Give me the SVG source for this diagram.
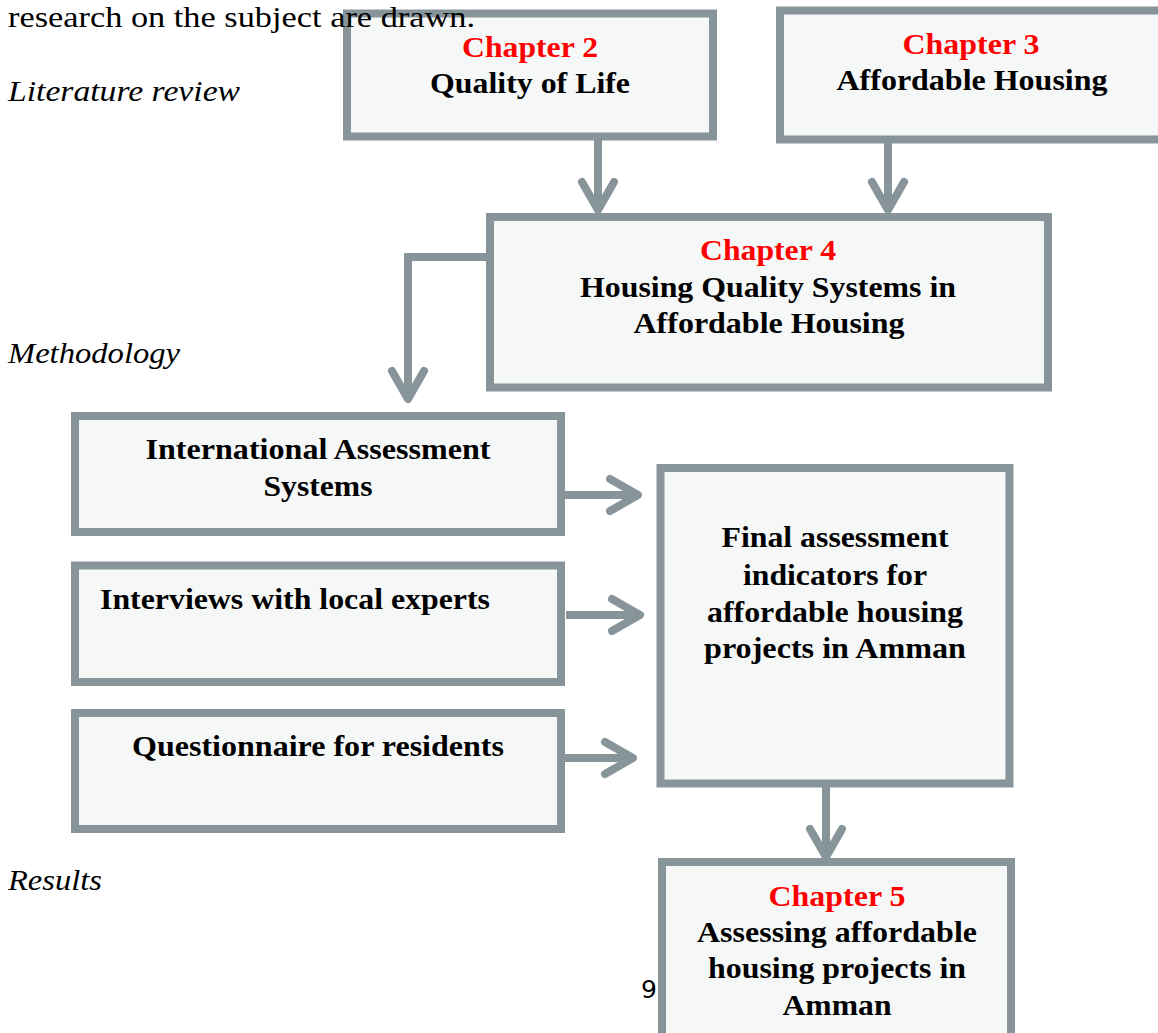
<svg xmlns="http://www.w3.org/2000/svg" width="1158" height="1033" viewBox="0 0 1158 1033">
<style>
.box{fill:#f6f8f8;stroke:#87949a;stroke-width:8}
.t{font-family:"Liberation Serif","Times New Roman",serif;font-weight:bold;font-size:30px;fill:#000;text-anchor:middle}
.ts{text-anchor:start}
.red{fill:#ff0000}
.lbl{font-family:"Liberation Serif","Times New Roman",serif;font-style:italic;font-size:29px;fill:#000}
.con{fill:none;stroke:#87949a;stroke-width:8}
</style>
<defs>
<marker id="arr" viewBox="-34 -22 44 44" refX="-4" refY="0" markerWidth="44" markerHeight="44" markerUnits="userSpaceOnUse" orient="auto">
<path d="M-28,-16 L0,0 L-28,16" fill="none" stroke="#87949a" stroke-width="8" stroke-linecap="round" stroke-linejoin="round"/>
</marker>
</defs>
<rect width="1158" height="1033" fill="#ffffff"/>
<g id="page-labels">
<text class="lbl" x="8" y="101" textLength="232" lengthAdjust="spacingAndGlyphs">Literature review</text>
<text class="lbl" x="8" y="363" textLength="172" lengthAdjust="spacingAndGlyphs">Methodology</text>
<text class="lbl" x="8" y="890" textLength="94" lengthAdjust="spacingAndGlyphs">Results</text>
<text x="641" y="998" font-family="DejaVu Sans, sans-serif" font-size="25">9</text>
</g>
<g id="connectors">
<path class="con" d="M598,137 V206" marker-end="url(#arr)"/>
<path class="con" d="M888,140 V206" marker-end="url(#arr)"/>
<path class="con" d="M493,257 H408 V395" marker-end="url(#arr)"/>
<path class="con" d="M562,495 H634" marker-end="url(#arr)"/>
<path class="con" d="M566,615 H636" marker-end="url(#arr)"/>
<path class="con" d="M562,758 H629" marker-end="url(#arr)"/>
<path class="con" d="M826,786 V853" marker-end="url(#arr)"/>
</g>
<g id="ch2">
<rect class="box" x="347" y="13.5" width="366" height="123"/>
<text class="t red" x="530" y="57" textLength="136" lengthAdjust="spacingAndGlyphs">Chapter 2</text>
<text class="t" x="530" y="93" textLength="200" lengthAdjust="spacingAndGlyphs">Quality of Life</text>
</g>
<g id="ch3">
<rect class="box" x="780" y="10.5" width="400" height="129"/>
<text class="t red" x="971" y="54" textLength="137" lengthAdjust="spacingAndGlyphs">Chapter 3</text>
<text class="t" x="972" y="90" textLength="271" lengthAdjust="spacingAndGlyphs">Affordable Housing</text>
</g>
<g id="ch4">
<rect class="box" x="490" y="217" width="558" height="170.5"/>
<text class="t red" x="768" y="260" textLength="136" lengthAdjust="spacingAndGlyphs">Chapter 4</text>
<text class="t" x="768" y="297" textLength="376" lengthAdjust="spacingAndGlyphs">Housing Quality Systems in</text>
<text class="t" x="769" y="333" textLength="271" lengthAdjust="spacingAndGlyphs">Affordable Housing</text>
</g>
<g id="intl">
<rect class="box" x="75" y="416" width="486" height="116"/>
<text class="t" x="318" y="459" textLength="345" lengthAdjust="spacingAndGlyphs">International Assessment</text>
<text class="t" x="318" y="496" textLength="109" lengthAdjust="spacingAndGlyphs">Systems</text>
</g>
<g id="interviews">
<rect class="box" x="75" y="565.5" width="486" height="116.5"/>
<text class="t ts" x="100" y="609" textLength="390" lengthAdjust="spacingAndGlyphs">Interviews with local experts</text>
</g>
<g id="questionnaire">
<rect class="box" x="75" y="713" width="486" height="116"/>
<text class="t" x="318" y="756" textLength="372" lengthAdjust="spacingAndGlyphs">Questionnaire for residents</text>
</g>
<g id="final">
<rect class="box" x="660.5" y="468" width="349" height="315.5"/>
<text class="t" x="835" y="547" textLength="227" lengthAdjust="spacingAndGlyphs">Final assessment</text>
<text class="t" x="835" y="585" textLength="184" lengthAdjust="spacingAndGlyphs">indicators for</text>
<text class="t" x="835" y="622" textLength="256" lengthAdjust="spacingAndGlyphs">affordable housing</text>
<text class="t" x="835" y="658" textLength="262" lengthAdjust="spacingAndGlyphs">projects in Amman</text>
</g>
<g id="ch5">
<rect class="box" x="662" y="862" width="349" height="200"/>
<text class="t red" x="837" y="906" textLength="137" lengthAdjust="spacingAndGlyphs">Chapter 5</text>
<text class="t" x="837" y="942" textLength="280" lengthAdjust="spacingAndGlyphs">Assessing affordable</text>
<text class="t" x="837" y="978" textLength="258" lengthAdjust="spacingAndGlyphs">housing projects in</text>
<text class="t" x="837" y="1015" textLength="109" lengthAdjust="spacingAndGlyphs">Amman</text>
</g>
<g id="page-top-text">
<text x="8" y="27" font-family="Liberation Serif, serif" font-size="29" textLength="467" lengthAdjust="spacingAndGlyphs">research on the subject are drawn.</text>
</g>
</svg>
